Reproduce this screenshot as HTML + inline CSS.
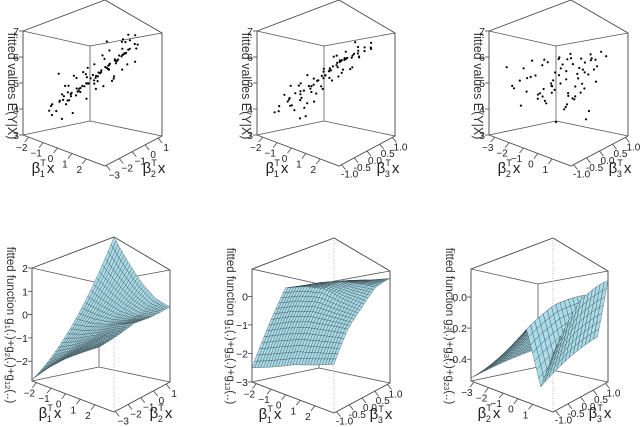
<!DOCTYPE html>
<html><head><meta charset="utf-8"><title>3D fitted plots</title>
<style>
html,body{margin:0;padding:0;background:#fff;}
svg{display:block;font-family:"Liberation Sans",sans-serif;}
</style></head>
<body>
<svg id="chart" width="640" height="427" viewBox="0 0 640 427" xmlns="http://www.w3.org/2000/svg">
<rect width="640" height="427" fill="#fff"/>
</svg>
<script>
// ---------- data ----------
const zTicksTop = [3,4,5,6,7];
const zTicksP4 = [-2,-1,0,1,2];
const zTicksP5 = [-3,-2,-1,0];
const zTicksP6 = [-0.4,-0.2,0.0];
const zTickLabelsP6 = ["-0.4","-0.2","0.0"];
const ticksB1 = [-2,-1,0,1,2];
const ticksB2 = [-3,-2,-1,0,1];
const ticksB3 = [-1.0,-0.5,0.0,0.5,1.0];
const ticksB3Labels = ["-1.0","-0.5","0.0","0.5","1.0"];

const pts1 = [[-1.5,-2,4.2],[-1.2,-1.5,4.5],[-1,-2.2,4.0],[-0.8,-1,4.8],[-0.5,-1.8,4.4],[-0.3,-0.5,5.2],[0,-1,5.0],[0.2,-0.3,5.4],[0.5,0,5.7],[0.8,-0.5,5.6],[1,0.3,6.1],[1.2,0.5,6.2],[1.5,0,6.0],[0.3,-1.2,5.0],[-0.6,-0.8,4.9],[-1.8,-1,4.3],[-1.4,-0.2,4.8],[0.6,0.6,6.0],[1.8,0.8,6.4],[1.3,-0.8,5.5],[-0.2,-2.3,4.3],[0.1,-1.6,4.7],[-0.9,-2.6,3.9],[0.4,0.2,5.8],[0.9,0.9,6.3],[-1.1,-0.6,4.7],[-0.4,0.1,5.3],[0.7,-1.1,5.2],[1.1,-0.1,5.9],[-1.6,-1.4,4.3],[0,0.5,5.6],[0.5,-0.7,5.4],[1.6,0.4,6.3],[-0.7,-1.5,4.6],[0.2,-2,4.6],[-2,-0.5,4.6],[1.9,-0.3,6.0],[0.3,0.8,6.0],[-0.1,-0.2,5.1],[0.6,-0.2,5.6],[1.4,0.7,6.4],[-1.3,-2.4,4.0],[0.8,0.2,5.9],[-0.5,-1.1,4.8],[1,-1.5,5.1],[-0.9,0.3,5.0],[0.1,0.9,5.9],[1.7,1,6.6],[-1.7,0.5,5.3],[-0.3,-1.4,4.7],[2,0.5,6.5],[0.4,-0.4,5.5],[-1,-1.2,4.5],[0.9,-0.9,5.4],[1.2,0.9,6.8],[-0.5,0.8,6.9],[1.5,1,7.0],[-1.9,-1.2,5.4],[-0.2,-0.9,5.0],[0.7,0.4,5.9],[-1.2,-1.8,4.3],[0.0,-0.4,5.3],[1.1,0.6,6.2],[-0.7,-0.3,5.0],[0.4,-1.6,4.9],[1.4,0.2,6.1],[-0.4,-2.0,4.4],[0.9,-0.3,5.7],[-1.5,-0.7,4.6],[0.2,0.3,5.6],
[-1.0,-1.0,5.3],[-0.5,-0.6,4.4],[0.3,-0.8,5.7],[0.8,0.1,5.2],[1.3,0.3,6.7],[-1.4,-1.0,4.9],[-0.2,0.3,4.9],[0.6,0.9,6.5],[1.0,-0.4,6.2],[-0.8,-2.0,4.6],[0.0,-1.3,5.4],[1.6,0.9,5.9],[-1.2,-0.9,3.8],[0.5,0.4,5.3],[1.8,0.0,6.5],[-0.6,-1.2,5.2],[0.2,-0.6,4.8],[0.9,0.6,6.7],[-1.8,-1.8,4.1],[-0.3,-0.7,5.6],[1.2,-0.4,5.1],[0.1,0.1,6.0],[-0.9,-1.7,4.9],[0.7,0.8,5.6],[1.5,0.5,6.9],[-0.4,-2.4,3.8],[0.4,-1.0,5.3],[1.1,0.8,5.8],[-1.1,-0.1,5.4],[0.8,-0.7,6.0]];

const pts2 = [[-1.8,-0.8,3.9],[-1.5,-0.5,4.3],[-1.2,-0.6,4.4],[-1,-0.3,4.7],[-0.8,-0.4,4.6],[-0.6,-0.2,4.9],[-0.4,0,5.1],[-0.2,-0.1,5.1],[0,0.1,5.3],[0.2,0.2,5.5],[0.4,0.3,5.7],[0.6,0.4,5.9],[0.8,0.5,6.0],[1,0.6,6.1],[1.2,0.7,6.2],[1.5,0.8,6.3],[1.8,0.9,6.4],[-0.3,-0.6,4.5],[0,-0.4,4.7],[0.3,-0.2,4.9],[0.5,0,5.2],[0.7,0.2,5.6],[-0.5,0.2,5.3],[-0.1,0.3,5.6],[0.3,0.5,5.9],[0.5,0.6,6.0],[0.9,0.7,6.2],[-1.3,-0.9,4.0],[-0.9,-0.7,4.2],[-0.6,-0.5,4.4],[0.1,-0.7,4.2],[0.4,-0.5,4.4],[0.6,-0.9,4.0],[-0.2,-0.3,4.9],[0.2,0,5.3],[0.1,0.2,5.5],[0.35,0.35,5.8],[0.45,0.4,5.9],[0.6,0.5,6.0],[0.7,0.45,5.95],[0.25,0.1,5.45],[-0.05,0.05,5.2],[-0.35,-0.15,4.95],[-0.7,-0.1,4.8],[-1.6,-0.2,4.6],[-1.9,-0.6,4.1],[-2.0,0.1,4.9],[1.3,0.9,6.5],[1.6,1.0,6.7],[2,0.8,6.4],[1.1,0.2,5.5],[1.4,0.4,5.6],[0.9,-0.1,5.1],[-0.8,0.4,5.5],[-1.1,0.2,5.2],[0.0,0.6,5.9],[0.5,0.8,6.1],[-0.4,-0.8,4.1],[0.2,-0.9,3.9],[-1.4,0.0,4.7],[1.7,0.5,6.0],[0.8,0.9,6.4],[-0.2,0.45,5.7],[0.15,0.7,6.0],
[-1.5,-0.4,4.9],[-1.0,-0.6,4.2],[-0.5,-0.3,5.3],[0,0.0,4.8],[0.4,0.2,6.0],[0.8,0.3,5.4],[1.2,0.6,6.6],[-1.8,-0.3,4.4],[-0.7,0.1,4.6],[0.2,0.4,6.1],[0.6,0.7,5.6],[1.0,0.8,6.5],[-0.3,-0.4,4.3],[0.5,-0.2,5.5],[-1.2,-0.2,5.0],[0.9,0.4,6.2],[-0.1,0.6,5.3],[1.5,0.6,6.0],[-0.9,-0.9,4.6],[0.3,-0.3,5.1]];

const pts3 = [[-2.8,-0.8,5.6],[-2.5,-0.5,5.1],[-2.2,-0.9,4.9],[-2.0,-0.2,5.3],[-1.8,-0.6,4.7],[-1.5,0.1,5.0],[-1.2,-0.3,4.8],[-1,0.4,5.5],[-0.8,-0.7,4.5],[-0.5,0.2,5.9],[-0.3,0.6,6.0],[0,0.8,6.2],[0.2,0.5,5.8],[0.4,-0.2,4.6],[0.6,0.3,5.4],[0.8,-0.5,4.3],[1,0.9,6.1],[-2.6,0.3,5.8],[-2.3,0.6,5.5],[-1.9,0.8,5.2],[-1.6,0.9,5.9],[-1.3,0.7,6.1],[-1.1,0.9,5.7],[-0.9,0.5,6.2],[-0.6,0.8,5.6],[-0.4,0.9,5.4],[-0.1,0.4,5.2],[0.1,0.2,4.9],[0.3,0.0,4.5],[0.5,-0.4,4.2],[0.7,-0.8,3.9],[0.9,-0.2,4.6],[-1.7,-0.1,4.5],[-1.4,-0.4,4.6],[-1.0,-0.1,4.9],[-0.7,0.0,5.3],[-0.2,-0.5,4.7],[0.0,-0.8,4.4],[0.3,0.7,6.0],[0.6,0.9,6.3],[0.8,0.6,5.9],[1.1,0.4,5.5],[-2.4,-0.3,5.2],[-2.1,0.0,4.6],[-1.2,0.3,5.6],[-0.8,0.1,5.0],[-0.5,-0.3,5.1],[0.2,-0.6,4.8],[-1.5,0.5,5.8],[-0.2,0.9,6.0],[0.4,0.3,5.0],[-2.9,0.5,6.1],[-1.9,0.3,4.9],[-0.9,-0.4,4.4],[0.1,-0.1,4.3],[0.5,0.8,5.7],[-0.6,0.6,5.4],[-1.1,-0.8,5.2],[-2.7,-0.6,4.8],[0.7,0.1,4.7],
[-2.0,-0.7,4.2],[-1.3,0.6,4.6],[-0.4,0.4,4.4],[0.2,0.9,5.1],[-0.8,-0.9,5.7],[-1.6,-0.8,5.5],[0.5,0.5,4.0],[0.9,0.2,3.8],[-0.1,-0.3,5.8],[-2.2,0.7,6.2],[-0.7,0.9,4.8],[0.3,-0.9,5.6]];

const p4A = [-2,-1,0,1,2];
const p4B = [-3,-2,-1,0,1];
const p4Z = [[-2.8,-2.4,-2.1,-1.9,-1.7],[-1.6,-1.5,-1.3,-1.1,-1.0],[-0.4,-0.5,-0.5,-0.4,-0.3],[0.8,0.5,0.2,0.0,0.0],[2.0,1.5,1.0,0.6,0.4]];
const p5A = [-2,-1,0,1,2];
const p5B = [-1,-0.5,0,0.5,1];
const p5Z = [[-2.5,-1.0,0.5,0.7,0.8],[-2.3,-0.9,0.4,0.7,0.85],[-2.1,-0.9,0.2,0.6,0.85],[-2.0,-1.0,-0.2,0.4,0.75],[-1.9,-1.1,-0.5,0.2,0.7]];
const p6A = [-3,-2,-1,-0.3,0.4,1];
const p6B = [-1,0,1];
const p6Z = [[-0.52,-0.45,-0.38],[-0.40,-0.30,-0.22],[-0.28,-0.16,-0.06],[-0.20,-0.06,0.04],[-0.45,-0.35,-0.25],[-0.30,-0.05,0.12]];

// ---------- rendering ----------
const svg = document.getElementById('chart');
const NS = 'http://www.w3.org/2000/svg';
function mk(tag, parent){ const e=document.createElementNS(NS,tag); parent.appendChild(e); return e; }

function makePanel(cfg){
  const g = mk('g', svg);
  
  
  cfg.g = g;
  return cfg;
}
function projUV(p,u,v,t){
  const L=p.L,H=p.H,y=p.yT,W=p.W;
  const G=[[L,y+31+H],[L+82,y+62+H],[L+W,y+32+H],[L+67,y+17+H]];
  const h=[H,H+62,H-1,H-29];
  const w=[(1-u)*(1-v),u*(1-v),u*v,(1-u)*v];
  let X=0,Y=0,HH=0;
  for(let i=0;i<4;i++){X+=w[i]*G[i][0];Y+=w[i]*G[i][1];HH+=w[i]*h[i];}
  return [X, Y - t*HH];
}
function proj(p,a,b,z){
  return projUV(p,(a-p.aR[0])/(p.aR[1]-p.aR[0]),(b-p.bR[0])/(p.bR[1]-p.bR[0]),(z-p.zR[0])/(p.zR[1]-p.zR[0]));
}
function line(p,x1,y1,x2,y2,col,sw,name,dash){
  const l=mk('line',p.g);
  l.setAttribute('x1',x1);l.setAttribute('y1',y1);l.setAttribute('x2',x2);l.setAttribute('y2',y2);
  l.setAttribute('stroke',col);l.setAttribute('stroke-width',sw);
  if(dash) l.setAttribute('stroke-dasharray',dash);
  
  
  return l;
}
function backBox(p){
  const L=p.L,y=p.yT,H=p.H,W=p.W;
  const LT=[L,y+31],IT=[L+67,y+46],RT=[L+W,y+33],LB=[L,y+31+H],IB=[L+67,y+17+H],RB=[L+W,y+32+H];
  [[LT,IT],[IT,RT],[IT,IB],[LB,IB],[IB,RB]].forEach(s=>line(p,s[0][0],s[0][1],s[1][0],s[1][1],'#555',0.8,'box-back-edge'));
}
function frontBox(p, dotted){
  const L=p.L,y=p.yT,H=p.H,W=p.W;
  const pg=mk('polygon',p.g);
  pg.setAttribute('points',[[L,y+31],[L+82,y],[L+W,y+33],[L+W,y+32+H],[L+82,y+62+H],[L,y+31+H]].map(q=>q.join(',')).join(' '));
  pg.setAttribute('fill','none');pg.setAttribute('stroke','#444');pg.setAttribute('stroke-width','0.9');
  
  
  if(dotted) line(p,L+82,y,L+82,y+62+H,'#999',0.7,'box-front-edge','1,1.5');
}
function text(p,x,y,str,size,anchor,name){
  const t=mk('text',p.g);
  t.setAttribute('x',x);t.setAttribute('y',y);t.setAttribute('font-size',size);
  t.setAttribute('text-anchor',anchor);t.setAttribute('fill','#222');
  t.textContent=str;
  
  
  return t;
}
function zAxis(p,ticks,labels){
  const L=p.L,y0=p.yT+31+p.H;
  ticks.forEach((v,i)=>{
    const yy=y0-(v-p.zR[0])/(p.zR[1]-p.zR[0])*p.H;
    line(p,L-4,yy,L,yy,'#444',0.8,'z-tick');
    text(p,L-4,yy+4,labels?labels[i]:String(v).replace('-','\u2212'),10.5,'end','z-tick-label');
  });
}
function groundAxes(p,t1,l1,t2,l2){
  t1.forEach((v,i)=>{
    const q=projUV(p,(v-p.tA[0])/(p.tA[1]-p.tA[0]),0,0);
    line(p,q[0],q[1],q[0]-4,q[1]+5,'#444',0.8,'axis1-tick');
    text(p,q[0]-7,q[1]+14,l1?l1[i]:String(v).replace('-','\u2212'),10,'middle','axis1-tick-label');
  });
  t2.forEach((v,i)=>{
    const q=projUV(p,1,(v-p.tB[0])/(p.tB[1]-p.tB[0]),0);
    line(p,q[0],q[1],q[0]+4,q[1]+5,'#444',0.8,'axis2-tick');
    text(p,q[0]+8,q[1]+13,l2?l2[i]:String(v).replace('-','\u2212'),10,'middle','axis2-tick-label');
  });
}
function betaLabel(p,x,y,idx,name){
  const t=mk('text',p.g);
  t.setAttribute('x',x);t.setAttribute('y',y);t.setAttribute('font-size',15);t.setAttribute('text-anchor','middle');t.setAttribute('fill','#222');
  
  
  const s1=mk('tspan',t); s1.textContent='\u03b2';
  const s2=mk('tspan',t); s2.setAttribute('font-size',9); s2.setAttribute('dy',-7); s2.textContent='T';
  const s3=mk('tspan',t); s3.setAttribute('font-size',9); s3.setAttribute('dx',-6); s3.setAttribute('dy',11); s3.textContent=idx;
  const s4=mk('tspan',t); s4.setAttribute('dy',-4); s4.setAttribute('dx',2); s4.textContent='x';
}
function yTitle(p,x,y,parts,size,name){
  const t=mk('text',p.g);
  t.setAttribute('x',0);t.setAttribute('y',0);t.setAttribute('font-size',size);t.setAttribute('text-anchor','middle');t.setAttribute('fill','#333');
  t.setAttribute('transform','translate('+x+','+y+') rotate(90)');
  
  
  parts.forEach(pt=>{
    const s=mk('tspan',t);
    if(pt[1]){ s.setAttribute('font-size',size*0.65); s.setAttribute('dy',2);} else { s.setAttribute('dy',pt[2]||0); }
    s.textContent=pt[0];
  });
}
function scatter(p,pts){
  pts.forEach(d=>{
    const q=proj(p,d[0],d[1],d[2]);
    const c=mk('circle',p.g);
    c.setAttribute('cx',q[0].toFixed(1));c.setAttribute('cy',q[1].toFixed(1));c.setAttribute('r',1.1);c.setAttribute('fill','#000');
    
    
  });
}
function surface(p,A,B,Z,sub){
  function zAt(a,b){
    let i=0;while(i<A.length-2&&a>A[i+1])i++;
    let j=0;while(j<B.length-2&&b>B[j+1])j++;
    const s=(a-A[i])/(A[i+1]-A[i]), t=(b-B[j])/(B[j+1]-B[j]);
    return (1-s)*(1-t)*Z[i][j]+s*(1-t)*Z[i+1][j]+s*t*Z[i+1][j+1]+(1-s)*t*Z[i][j+1];
  }
  const as=[],bs=[];
  for(let i=0;i<A.length-1;i++)for(let k=0;k<sub;k++)as.push(A[i]+(A[i+1]-A[i])*k/sub);
  as.push(A[A.length-1]);
  for(let j=0;j<B.length-1;j++)for(let k=0;k<sub;k++)bs.push(B[j]+(B[j+1]-B[j])*k/sub);
  bs.push(B[B.length-1]);
  const cells=[];
  for(let i=0;i<as.length-1;i++)for(let j=0;j<bs.length-1;j++){
    const q4=[[as[i],bs[j]],[as[i+1],bs[j]],[as[i+1],bs[j+1]],[as[i],bs[j+1]]];
    const c=q4.map(q=>proj(p,q[0],q[1],zAt(q[0],q[1])));
    const u=(as[i]-p.aR[0])/(p.aR[1]-p.aR[0]), v=(bs[j]-p.bR[0])/(p.bR[1]-p.bR[0]);
    cells.push({c,d:u-v});
  }
  cells.sort((x,y)=>x.d-y.d);
  cells.forEach(cl=>{
    const c=cl.c;
    const pg=mk('polygon',p.g);
    pg.setAttribute('points',c.map(q=>q[0].toFixed(1)+','+q[1].toFixed(1)).join(' '));
    pg.setAttribute('fill','#a9dbe8');
    pg.setAttribute('stroke','#26363c');pg.setAttribute('stroke-width','0.3');
    
    
  });
}

const P1=makePanel({name:'panel-scatter-b1-b2',L:23,yT:0,H:104,W:139,aR:[-2.4,3.3],bR:[-3.1,1.3],tA:[-2.4,3.3],tB:[-3.1,1.3],zR:[3,7]});
const P2=makePanel({name:'panel-scatter-b1-b3',L:257,yT:0,H:104,W:138,aR:[-2.4,3.3],bR:[-1.1,1.1],tA:[-2.4,3.3],tB:[-1.1,1.1],zR:[3,7]});
const P3=makePanel({name:'panel-scatter-b2-b3',L:489,yT:0,H:104,W:139,aR:[-3.4,2.3],bR:[-1.1,1.1],tA:[-3.4,2.3],tB:[-1.1,1.1],zR:[3,7]});
const P4=makePanel({name:'panel-surface-g1-g2',L:32,yT:237,H:113,W:138,aR:[-2,2],bR:[-3,1],tA:[-2.3,3.3],tB:[-3.1,1.3],zR:[-2.85,2.0]});
const P5=makePanel({name:'panel-surface-g1-g3',L:252,yT:238,H:113,W:138,aR:[-2,2],bR:[-1,1],tA:[-2.3,3.3],tB:[-1.1,1.1],zR:[-3,0.96]});
const P6=makePanel({name:'panel-surface-g2-g3',L:471,yT:238,H:112,W:137,aR:[-3,1],bR:[-1,1],tA:[-3.2,2.4],tB:[-1.1,1.1],zR:[-0.54,0.18]});

const topTitle=[['fitted values  E(Y|X)',false]];
[[P1,pts1,ticksB1,null,ticksB2,null,'1','2'],[P2,pts2,ticksB1,null,ticksB3,ticksB3Labels,'1','3'],[P3,pts3,ticksB2,null,ticksB3,ticksB3Labels,'2','3']].forEach(r=>{
  const p=r[0];
  backBox(p); scatter(p,r[1]); frontBox(p,false);
  zAxis(p,zTicksTop,null);
  groundAxes(p,r[2],r[3],r[4],r[5]);
  betaLabel(p,p.L+20,p.yT+p.H+69,r[6],'x-axis-title');
  betaLabel(p,p.L+131,p.yT+p.H+69,r[7],'y-axis-title');
  yTitle(p,p.L-15,p.yT+86,topTitle,12.5,'z-axis-title');
});

const bot=[[P4,p4A,p4B,p4Z,zTicksP4,null,ticksB1,ticksB2,'1','2',['1','2','12']],
           [P5,p5A,p5B,p5Z,zTicksP5,null,ticksB1,ticksB3,'1','3',['1','3','13']],
           [P6,p6A,p6B,p6Z,zTicksP6,zTickLabelsP6,ticksB2,ticksB3,'2','3',['2','3','23']]];
bot.forEach(r=>{
  const p=r[0];
  backBox(p); frontBox(p,true); surface(p,r[1],r[2],r[3],7);
  zAxis(p,r[4],r[5]);
  groundAxes(p,r[6],null,r[7],r[7]===ticksB3?ticksB3Labels:null);
  betaLabel(p,p.L+18,p.yT+p.H+68,r[8],'x-axis-title');
  betaLabel(p,p.L+129,p.yT+p.H+68,r[9],'y-axis-title');
  const s=r[10];
  yTitle(p,(p===P4?7:p.L-25),p.yT+88,[['fitted function g',false],[s[0],true],['(.)+g',false,-2],[s[1],true],['(.)+g',false,-2],[s[2],true],['(..)',false,-2]],11.5,'z-axis-title');
});
</script>
</body></html>
